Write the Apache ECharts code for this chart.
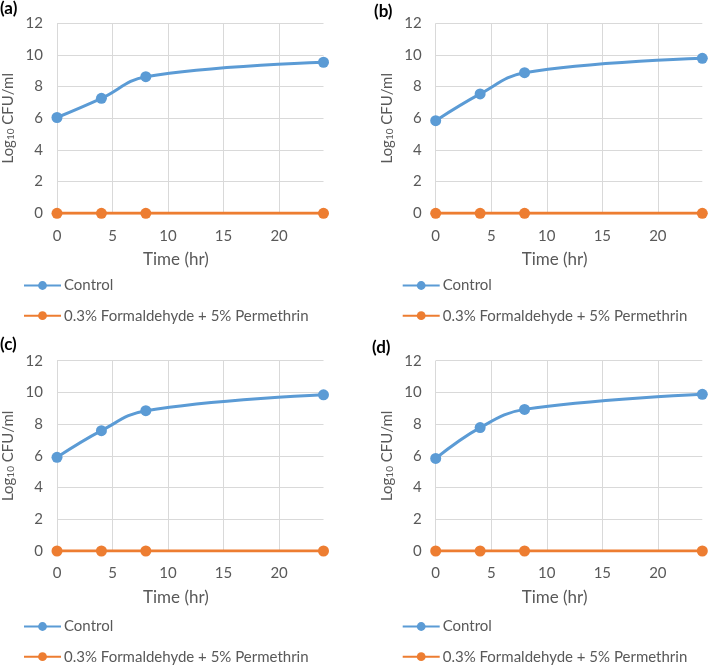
<!DOCTYPE html>
<html>
<head>
<meta charset="utf-8">
<script src="https://cdn.jsdelivr.net/npm/echarts@6/dist/echarts.min.js"></script>
<style>html,body{margin:0;padding:0;background:#fff}#c{width:709px;height:666px}</style>
</head>
<body>
<div id="c"></div>
<script>
const times = [0, 4, 8, 24];
const panelLabels = ['(a)', '(b)', '(c)', '(d)'];
const controlA = [6.05, 7.26, 8.63, 9.54];
const controlB = [5.85, 7.54, 8.88, 9.79];
const controlC = [5.91, 7.59, 8.85, 9.85];
const controlD = [5.84, 7.78, 8.93, 9.88];
const treatA = [0, 0, 0, 0];
const treatB = [0, 0, 0, 0];
const treatC = [0, 0, 0, 0];
const treatD = [0, 0, 0, 0];
const seriesNames = ['Control', '0.3% Formaldehyde + 5% Permethrin'];
const xTitle = 'Time (hr)';
const yTitle = 'Log{sub|10} CFU/ml';

const controls = [controlA, controlB, controlC, controlD];
const treats = [treatA, treatB, treatC, treatD];
const BLUE = '#5B9BD5', ORANGE = '#ED7D31', GRID = '#D9D9D9', TXT = '#595959';
const FONT = 'Lato, "Open Sans", sans-serif';

const pos = [
  {left: 57, top: 23.3, width: 266.5, height: 190},
  {left: 435.7, top: 23.3, width: 266.6, height: 190},
  {left: 57, top: 360.7, width: 266.5, height: 190.3},
  {left: 435.7, top: 360.7, width: 266.6, height: 190.3}
];
const labelPos = [[0, 0], [374, 3], [0, 336], [372, 339]];
const legendTop = [278, 278, 619, 619];

const grids = [], xAxes = [], yAxes = [], series = [], legends = [], graphics = [];
pos.forEach((p, i) => {
  grids.push({left: p.left, top: p.top, width: p.width, height: p.height, containLabel: false});
  xAxes.push({
    type: 'value', gridIndex: i, min: 0, max: 24, interval: 5,
    axisLine: {show: false}, axisTick: {show: false},
    axisLabel: {color: TXT, fontSize: 15, fontFamily: FONT, margin: 15, showMaxLabel: false},
    splitLine: {show: true, showMaxLine: false, lineStyle: {color: GRID, width: 1}}
  });
  yAxes.push({
    type: 'value', gridIndex: i, min: 0, max: 12, interval: 2,
    axisLine: {show: false}, axisTick: {show: false},
    axisLabel: {color: TXT, fontSize: 15, fontFamily: FONT, margin: 14},
    splitLine: {show: true, lineStyle: {color: GRID, width: 1}},
    name: yTitle, nameLocation: 'middle', nameGap: 41, nameRotate: 90,
    nameTextStyle: {color: TXT, fontSize: 15, fontFamily: FONT,
      rich: {sub: {fontSize: 10, color: TXT, fontFamily: FONT, verticalAlign: 'bottom', padding: [5, 0, 0, 0]}}}
  });
  const ctrl = controls[i], tr = treats[i];
  series.push({
    name: seriesNames[0], type: 'line', xAxisIndex: i, yAxisIndex: i,
    data: times.map((t, k) => [t, ctrl[k]]), smooth: 0.4,
    symbol: 'circle', symbolSize: 11, itemStyle: {color: BLUE},
    lineStyle: {color: BLUE, width: 3}, z: 3
  });
  series.push({
    name: seriesNames[1], type: 'line', xAxisIndex: i, yAxisIndex: i,
    data: times.map((t, k) => [t, tr[k]]), smooth: 0.4,
    symbol: 'circle', symbolSize: 11, itemStyle: {color: ORANGE},
    lineStyle: {color: ORANGE, width: 3}, z: 4
  });
  const top = p.top + p.height;
  legends.push({
    orient: 'vertical', left: p.left - 34, top: legendTop[i], padding: 0,
    itemWidth: 37, itemHeight: 11, itemGap: 15.2, height: 60,
    textStyle: {color: TXT, fontSize: 15, fontFamily: FONT, padding: [0, 0, 0, -2]},
    data: seriesNames, selectedMode: false
  });
  graphics.push({
    type: 'text', left: p.left + 86, top: top + 38,
    style: {text: xTitle, fill: TXT, font: '17px ' + FONT}
  });
  graphics.push({
    type: 'text', left: labelPos[i][0], top: labelPos[i][1],
    style: {text: panelLabels[i], fill: '#000', font: 'bold 17px ' + FONT}
  });
});

const chart = echarts.init(document.getElementById('c'), null, {renderer: 'canvas'});
chart.setOption({
  animation: false,
  backgroundColor: '#fff',
  grid: grids, xAxis: xAxes, yAxis: yAxes, series: series,
  legend: legends, graphic: graphics
});
</script>
</body>
</html>
